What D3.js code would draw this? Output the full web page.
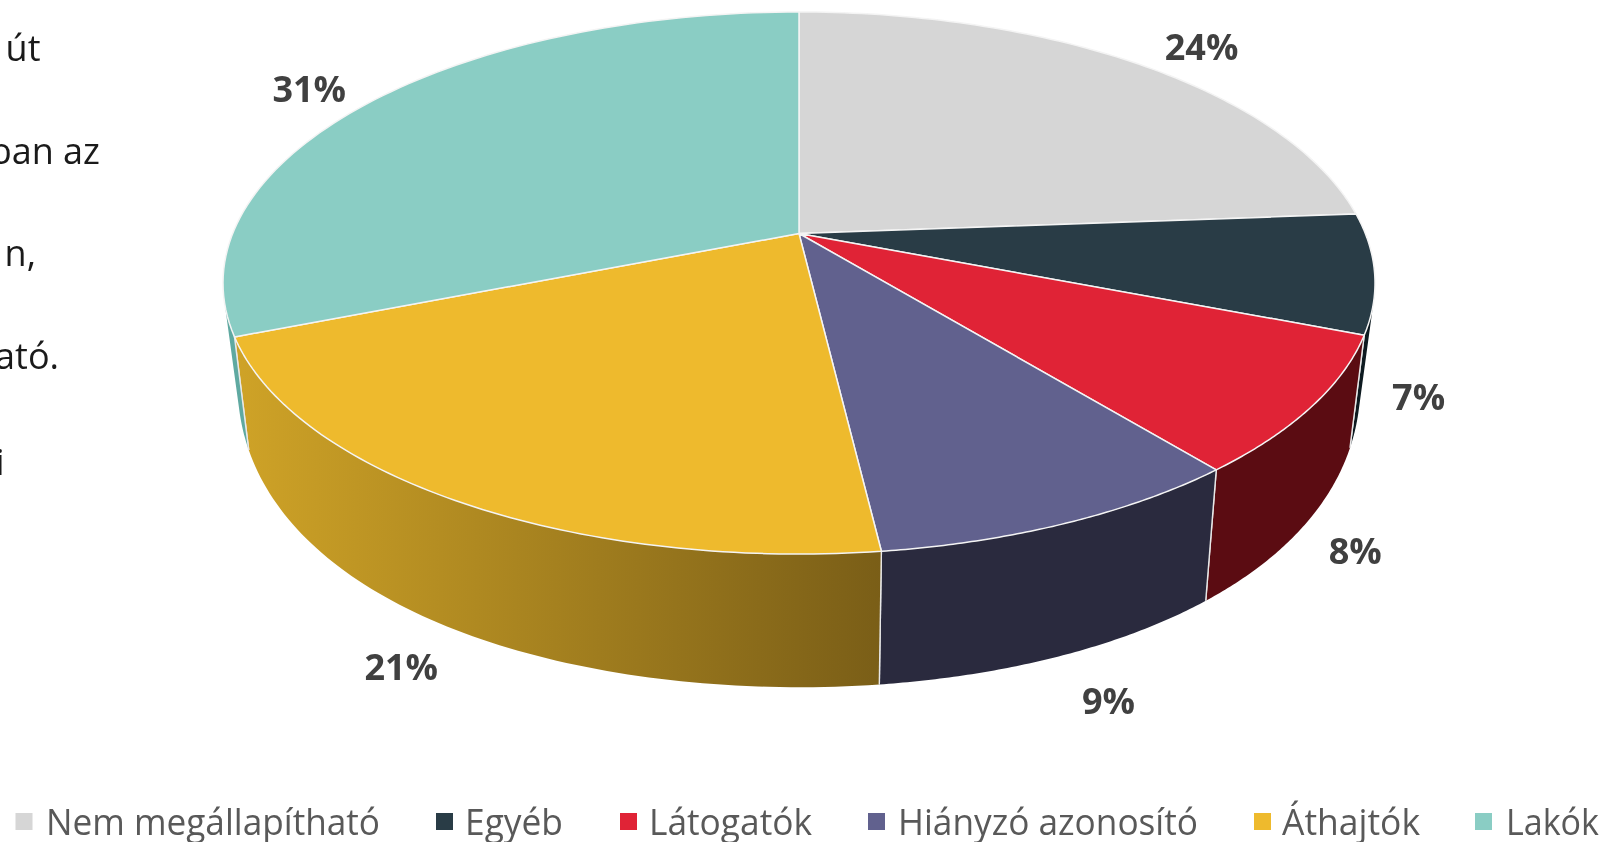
<!DOCTYPE html>
<html lang="hu"><head><meta charset="utf-8">
<script src="https://cdn.jsdelivr.net/npm/d3@7"></script>
<style>html,body{margin:0;background:#fff;overflow:hidden}svg{display:block;filter:blur(.5px)}text{font-family:"Open Sans",sans-serif}</style>
</head><body><svg id="c" width="1606" height="842"></svg>
<script>
// data
const categories = ["Nem megállapítható","Egyéb","Látogatók","Hiányzó azonosító","Áthajtók","Lakók"];
const values = [23.8,7.1,8.2,9.0,20.9,31.0];
const topColors = ["#d6d6d6","#293c46","#e02336","#61618e","#eeba2d","#8acdc4"];
const sideStart = ["#a8a8a8","#0d1a20","#5b0c12","#2a2a3e","#cfa327","#5fa9a1"];
const sideEnd   = ["#a8a8a8","#0d1a20","#5b0c12","#2a2a3e","#7a5e17","#5fa9a1"];
const bodyTextFragments = ["út","ban az","n,","ató.","i"];

// layout
const k = 0.1827, botKx = 0.1827, botKy = 0.05;
const topX = d3.scaleLinear([-1,1],[799-566.3,799+566.3]);
const topY = d3.scaleLinear([-1,1],[233.5-262,233.5+262]);
const botX = d3.scaleLinear([-1,1],[799-552,799+552]);
const botY = d3.scaleLinear([-1,1],[318.8-350,318.8+350]);
const top_ = t=>{const x=Math.sin(t),y=-Math.cos(t),w=1-k*y;return [topX(x/w),topY(y/w)];};
const bot_ = t=>{const x=Math.sin(t),y=-Math.cos(t);return [botX(x/(1-botKx*y)),botY(y/(1-botKy*y))];};
const range=(a,b,n=80)=>d3.range(n+1).map(i=>a+(b-a)*i/n);
const line=d3.line().curve(d3.curveLinear);
const rad=d=>d*Math.PI/180;
const visStart=rad(105), visEnd=rad(255);

const svg=d3.select("#c");
const defs=svg.append("defs");
const arcs=d3.pie().sort(null)(values);

// body text clipped on the left edge
const bodyBaseline=[61,164,266,369,475], bodyRight=[40.5,100,36,59,4.5];
svg.selectAll("text.body").data(bodyTextFragments).join("text").attr("class","body")
 .attr("x",(d,i)=>bodyRight[i]).attr("y",(d,i)=>bodyBaseline[i])
 .attr("text-anchor","end").attr("font-size",36).attr("fill","#1a1a1a").text(d=>d);

// side walls
arcs.forEach((a,i)=>{
  const s=Math.max(a.startAngle,visStart), e=Math.min(a.endAngle,visEnd);
  if(e<=s) return;
  const id="g"+i;
  const x0=top_(e)[0], x1=top_(s)[0];
  const g=defs.append("linearGradient").attr("id",id).attr("gradientUnits","userSpaceOnUse")
    .attr("x1",Math.min(x0,x1)).attr("x2",Math.max(x0,x1)).attr("y1",0).attr("y2",0);
  g.append("stop").attr("offset",0).attr("stop-color",sideStart[i]);
  g.append("stop").attr("offset",1).attr("stop-color",sideEnd[i]);
  const pts=[...range(s,e).map(top_),...range(e,s).map(bot_)];
  svg.append("path").attr("d",line(pts)+"Z").attr("fill",`url(#${id})`);
  [a.startAngle,a.endAngle].forEach(b=>{
    if(b>=visStart&&b<=visEnd)
      svg.append("path").attr("d",line([top_(b),bot_(b)])).attr("stroke","#e8e8e8").attr("stroke-width",1.4).attr("fill","none");
  });
});

// top face
const apex=[topX(0),topY(0)];
svg.selectAll("path.top").data(arcs).join("path").attr("class","top")
  .attr("d",a=>line([apex,...range(a.startAngle,a.endAngle).map(top_)])+"Z")
  .attr("fill",(a,i)=>topColors[i]).attr("stroke","#f4f4f4").attr("stroke-width",1.5).attr("stroke-linejoin","round");

// data labels, placed relative to the rim point at each slice's mid angle
const labelOffset=[[63,-18],[44,123],[43,144],[43,177],[-54,166],[-65,-11]];
svg.selectAll("text.lab").data(arcs).join("text").attr("class","lab")
  .attr("transform",(a,i)=>{const p=top_((a.startAngle+a.endAngle)/2);return `translate(${p[0]+labelOffset[i][0]},${p[1]+labelOffset[i][1]})`;})
  .attr("text-anchor","middle").attr("dominant-baseline","central")
  .attr("font-size",36).attr("font-weight",700).attr("fill","#404040")
  .text(a=>Math.round(a.data)+"%");

// legend
const swatchX=[15.5,436,620,868,1254,1475], textX=[46,465,649,898,1282,1506], textW=[334,98,163,300,138,93];
const lg=svg.selectAll("g.lg").data(categories).join("g").attr("class","lg");
lg.append("rect").attr("x",(d,i)=>swatchX[i]).attr("y",813).attr("width",17).attr("height",17).attr("fill",(d,i)=>topColors[i]);
lg.append("text").attr("x",(d,i)=>textX[i]).attr("y",835).attr("font-size",37).attr("fill","#595959")
  .attr("textLength",(d,i)=>textW[i]).attr("lengthAdjust","spacingAndGlyphs").text(d=>d);
</script></body></html>
